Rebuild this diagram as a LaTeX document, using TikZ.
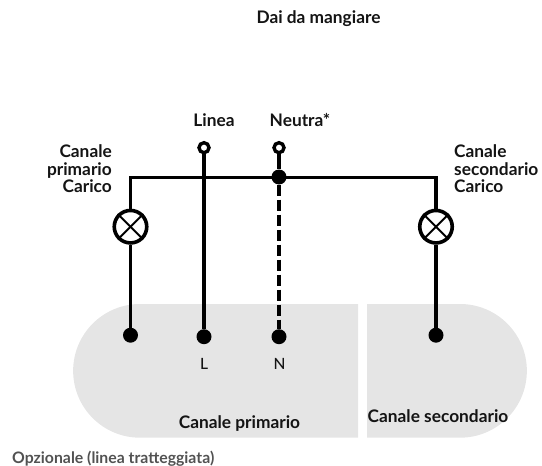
\documentclass[tikz,border=0pt]{standalone}
\usepackage{fontspec}
\setmainfont{Lato}[UprightFont=* Bold]
\newfontfamily\latoreg{Lato Medium}
\tikzset{
 wire/.style={line width=3.6pt,black},
 dashwire/.style={wire,dash pattern=on 11.5pt off 3.5pt},
 dotn/.style={circle,fill=black,inner sep=0,minimum size=15pt},
 term/.style={circle,draw=black,fill=white,line width=3.4pt,inner sep=0,minimum size=10pt},
 bulb/.style={circle,draw=black,fill=white,line width=3.6pt,inner sep=0,minimum size=32.5pt},
 lab/.style={font=\fontsize{17.3}{17.4}\selectfont,inner sep=0,text=black!92},
 blob/.style={fill=black!10,draw=none},
}
\begin{document}
\begin{tikzpicture}[x=1pt,y=-1pt]
\useasboundingbox (0,0) rectangle (542,466);
\fill[blob] (358,304) -- (358,437.7) -- (140,437.7) arc[start angle=270,end angle=90,radius=66.85pt] -- cycle;
\fill[blob] (367,304) -- (367,437.7) -- (460,437.7) arc[start angle=-90,end angle=90,radius=66.85pt] -- cycle;
\node[lab] (title) at (318.5,19) {Dai da mangiare};
\node[lab] (linea) at (214,120) {Linea};
\node[lab] (neutra) at (300,120) {Neutra*};
\node[lab,align=right,anchor=east] (cp) at (112,169) {Canale\\primario\\Carico};
\node[lab,align=left,anchor=west] (cs) at (454,169) {Canale\\secondario\\Carico};
\node[lab,font=\fontsize{15.5}{16}\latoreg] (l) at (204,364) {L};
\node[lab,font=\fontsize{15.5}{16}\latoreg] (n) at (279.5,364) {N};
\node[lab] (cpn) at (239.5,424) {Canale primario};
\node[lab] (csn) at (438,416) {Canale secondario};
\node[lab,anchor=west,text=black!68,font=\fontsize{15.8}{17}\selectfont] (op) at (12,459) {Opzionale (linea tratteggiata)};
\coordinate (c1) at (130.5,177.3);
\coordinate (c2) at (436,177.3);
\node[term] (tl) at (204,147.7) {};
\node[term] (tn) at (279,147.7) {};
\node[dotn] (j) at (279,177) {};
\node[bulb] (b1) at (130.5,226.7) {};
\node[bulb] (b2) at (436,226.7) {};
\node[dotn] (d1) at (130.5,335.2) {};
\node[dotn] (dl) at (204,336.7) {};
\node[dotn] (dn) at (279,336.7) {};
\node[dotn] (d2) at (436,335.2) {};
\draw[wire] (b1) -- (c1) -- (c2) -- (b2);
\draw[wire] (tl) -- (dl);
\draw[wire] (tn) -- (j);
\draw[dashwire] (j) -- (dn);
\draw[wire] (b1) -- (d1);
\draw[wire] (b2) -- (d2);
\foreach \b in {b1,b2}{
 \draw[line width=1.9pt] (\b.north west) -- (\b.south east);
 \draw[line width=1.9pt] (\b.north east) -- (\b.south west);
}
\end{tikzpicture}
\end{document}
